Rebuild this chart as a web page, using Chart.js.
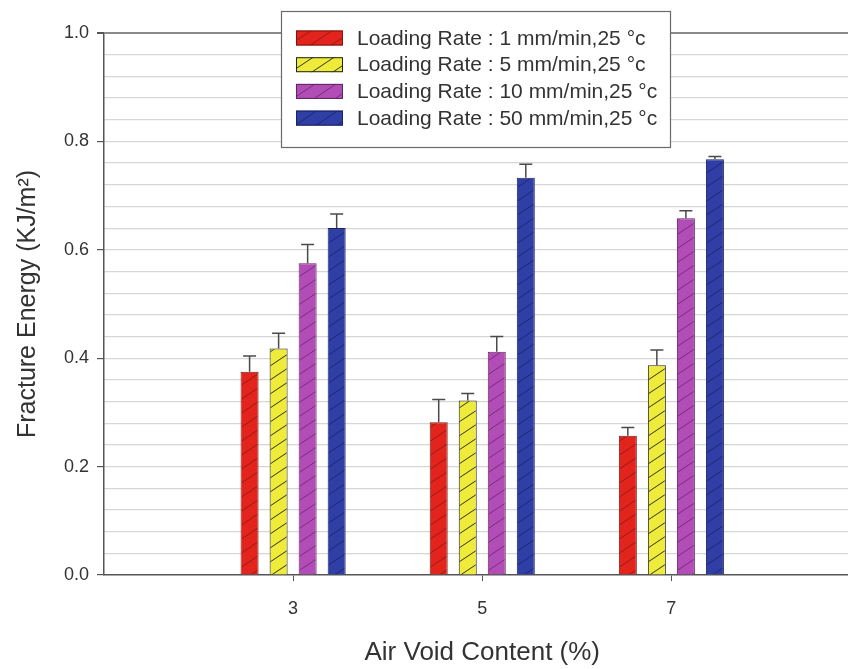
<!DOCTYPE html>
<html>
<head>
<meta charset="utf-8">
<script src="https://cdn.jsdelivr.net/npm/chart.js@4.4.1/dist/chart.umd.min.js"></script>
<style>
  html, body { margin: 0; padding: 0; background: #fff; overflow: hidden; }
  #wrap { width: 880px; height: 669px; }
</style>
</head>
<body>
<div id="wrap"><canvas id="myChart" width="880" height="669"></canvas></div>
<script>
// air void content groups
const categories = ['3', '5', '7'];

const seriesLabels = [
  'Loading Rate : 1 mm/min,25 °c',
  'Loading Rate : 5 mm/min,25 °c',
  'Loading Rate : 10 mm/min,25 °c',
  'Loading Rate : 50 mm/min,25 °c'
];

// fracture energy means (KJ/m2)
const rate1 = [0.375, 0.282, 0.257];
const rate5 = [0.418, 0.322, 0.387];
const rate10 = [0.575, 0.412, 0.658];
const rate50 = [0.640, 0.733, 0.767];

// upper error (std dev)
const err1 = [0.029, 0.042, 0.015];
const err5 = [0.028, 0.013, 0.028];
const err10 = [0.035, 0.028, 0.014];
const err50 = [0.026, 0.025, 0.005];

const yTicks = [0, 0.2, 0.4, 0.6, 0.8, 1.0];

const fills = ['#e3241c', '#eeeb3a', '#b24cb6', '#2f3fa6'];
const hatchColors = ['#981a14', '#33331c', '#772e7a', '#1e2874'];
const borders = ['#7a1510', '#222222', '#5e245f', '#1a2262'];

const FONT = '"Liberation Sans", Arial, sans-serif';

function hatch(bg, line) {
  const w = 21, h = 14;
  const c = document.createElement('canvas');
  c.width = w; c.height = h;
  const g = c.getContext('2d');
  g.fillStyle = bg;
  g.fillRect(0, 0, w, h);
  g.strokeStyle = line;
  g.lineWidth = 1;
  g.beginPath();
  g.moveTo(-3, h + 2); g.lineTo(w + 3, -2);
  g.moveTo(-w - 3, h + 2); g.lineTo(3, -2);
  g.moveTo(w - 3, h + 2); g.lineTo(2 * w + 3, -2);
  g.stroke();
  return document.getElementById('myChart').getContext('2d').createPattern(c, 'repeat');
}

const pad = arr => [null, ...arr, null];
const values = [rate1, rate5, rate10, rate50];
const errors = [err1, err5, err10, err50];

const errorBars = {
  id: 'errorBars',
  afterDatasetsDraw(chart) {
    const ctx = chart.ctx;
    const y = chart.scales.y;
    ctx.save();
    ctx.strokeStyle = '#4a4a4a';
    ctx.lineWidth = 1.5;
    chart.data.datasets.forEach((ds, i) => {
      const meta = chart.getDatasetMeta(i);
      meta.data.forEach((bar, j) => {
        const v = ds.data[j];
        if (v == null) return;
        const e = ds.errors[j];
        const top = y.getPixelForValue(v + e);
        ctx.beginPath();
        ctx.moveTo(bar.x, bar.y);
        ctx.lineTo(bar.x, top);
        ctx.moveTo(bar.x - 6.5, top);
        ctx.lineTo(bar.x + 6.5, top);
        ctx.stroke();
      });
    });
    ctx.restore();
  }
};

const boxLegend = {
  id: 'boxLegend',
  afterDraw(chart) {
    const ctx = chart.ctx;
    ctx.save();
    ctx.fillStyle = '#ffffff';
    ctx.fillRect(281, 11, 389, 136);
    ctx.strokeStyle = '#6a6a6a';
    ctx.lineWidth = 1.2;
    ctx.strokeRect(281.5, 11.5, 389, 136);
    ctx.font = '21px ' + FONT;
    ctx.textBaseline = 'middle';
    chart.data.datasets.forEach((ds, i) => {
      const cy = 38 + i * 26.7;
      ctx.fillStyle = ds.backgroundColor;
      ctx.fillRect(296, cy - 7.5, 47, 15);
      ctx.strokeStyle = ds.borderColor;
      ctx.lineWidth = 1;
      ctx.strokeRect(296.5, cy - 7, 46, 14);
      ctx.fillStyle = '#333333';
      ctx.fillText(ds.label, 357, cy + 1);
    });
    ctx.restore();
  }
};

const ctx = document.getElementById('myChart').getContext('2d');
new Chart(ctx, {
  type: 'bar',
  data: {
    labels: ['', ...categories, ' '],
    datasets: seriesLabels.map((label, i) => ({
      label: label,
      data: pad(values[i]),
      errors: pad(errors[i]),
      backgroundColor: hatch(fills[i], hatchColors[i]),
      borderColor: borders[i],
      borderWidth: 1,
      categoryPercentage: 0.614,
      barPercentage: 0.62
    }))
  },
  options: {
    responsive: false,
    animation: false,
    layout: { padding: { top: 33, right: 10, left: 0, bottom: 0 } },
    plugins: {
      legend: { display: false },
      tooltip: { enabled: false },
      title: { display: false }
    },
    scales: {
      x: {
        offset: false,
        afterFit(scale) { scale.height = 94; },
        border: { color: '#555555', width: 1.5 },
        grid: {
          offset: false,
          drawOnChartArea: false,
          drawTicks: true,
          tickLength: 6,
          color: c => (c.index > 0 && c.index < 4) ? '#555555' : 'rgba(0,0,0,0)'
        },
        ticks: {
          autoSkip: false,
          maxRotation: 0,
          padding: 17,
          color: '#333333',
          font: { family: FONT, size: 18 }
        },
        title: {
          display: true,
          text: 'Air Void Content (%)',
          color: '#333333',
          padding: { top: 0, bottom: 1 },
          font: { family: FONT, size: 26 }
        }
      },
      y: {
        min: 0,
        max: 1.0,
        afterFit(scale) { scale.width = 104; },
        border: { color: '#555555', width: 1.5 },
        grid: {
          color: c => c.tick.value >= 0.999 ? '#8a8a8a' : (c.tick.value === 0 ? 'rgba(0,0,0,0)' : '#d6d6d6'),
          lineWidth: c => c.tick.value >= 0.999 ? 2 : 1.2,
          tickColor: c => yTicks.some(t => Math.abs(t - c.tick.value) < 1e-6) ? '#555555' : 'rgba(0,0,0,0)',
          tickLength: 7
        },
        ticks: {
          stepSize: 0.04,
          autoSkip: false,
          padding: 8,
          color: '#333333',
          font: { family: FONT, size: 18 },
          callback: v => {
            const hit = yTicks.find(t => Math.abs(t - v) < 1e-6);
            return hit === undefined ? '' : hit.toFixed(1);
          }
        },
        title: {
          display: true,
          text: 'Fracture Energy (KJ/m²)',
          color: '#333333',
          padding: { top: 13, bottom: 0 },
          font: { family: FONT, size: 25 }
        }
      }
    }
  },
  plugins: [errorBars, boxLegend]
});
</script>
</body>
</html>
